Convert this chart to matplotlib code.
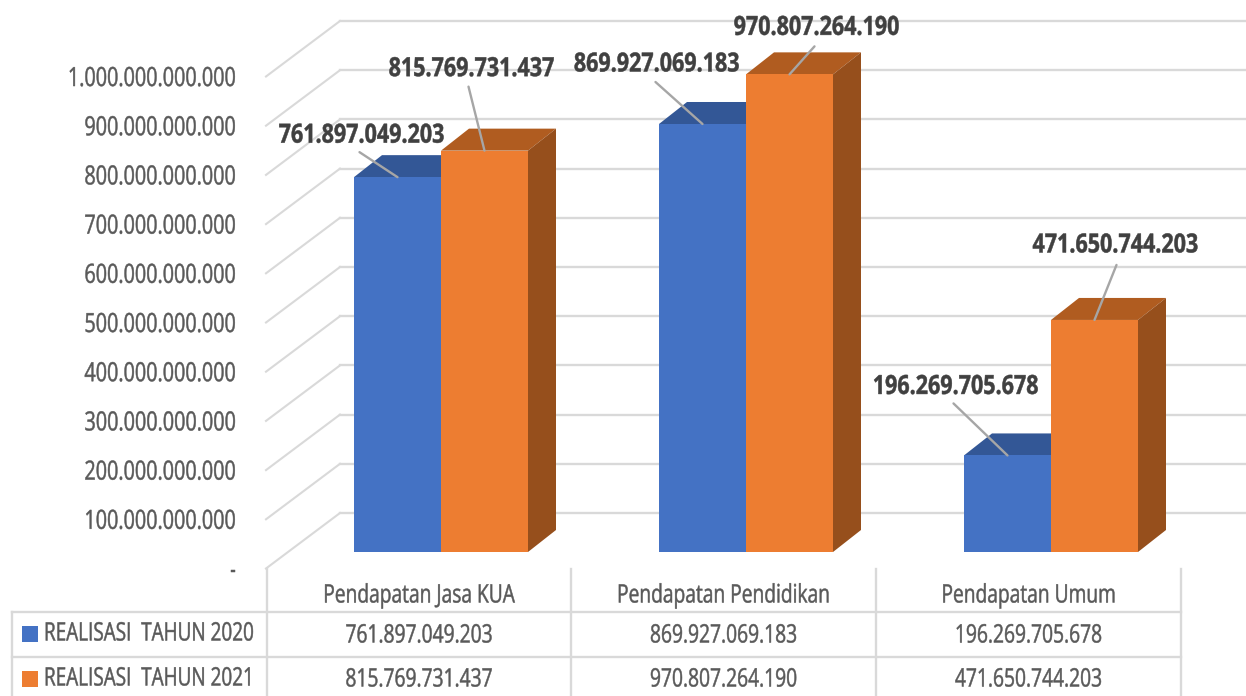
import matplotlib
matplotlib.use('Agg')
import matplotlib.pyplot as plt
import matplotlib.patheffects as pe
from matplotlib.transforms import Affine2D
import numpy as np

plt.rcParams['font.family'] = ['Open Sans', 'DejaVu Sans']

# ---- data ----
categories = ['Pendapatan Jasa KUA', 'Pendapatan Pendidikan', 'Pendapatan Umum']
series_names = ['REALISASI  TAHUN 2020', 'REALISASI  TAHUN 2021']
realisasi_2020 = [761897049203, 869927069183, 196269705678]
realisasi_2021 = [815769731437, 970807264190, 471650744203]
y_ticks = [0, 100e9, 200e9, 300e9, 400e9, 500e9, 600e9, 700e9, 800e9, 900e9, 1000e9]

# ---- colours ----
BLUE, BLUE_TOP = '#4472C4', '#335796'
ORANGE, ORANGE_TOP, ORANGE_SIDE = '#ED7D31', '#B05C20', '#964F1C'
GRID = '#D9D9D9'
TXT = '#595959'
LABEL = '#404040'
LEADER = '#A6A6A6'

# ---- layout, in pixels of the 1246x696 picture ----
W, H = 1246, 696
BASE_PX = 552
PX_PER_UNIT = 492 / 1e12
BAR_W = 87
GROUP_X = [354, 659, 964]
DEPTH_X, DEPTH_PX = 28, 22
WALL_L, WALL_R = 266, 340
FRONT_PX, BACK_PX = 16.5, 39

# leader start and label centre, relative to top middle of each bar
offsets_2020 = [((-38, 25), (-36, 42)), ((-47, 42), (-46, 60)), ((-54, 52), (-52, 69))]
offsets_2021 = [((-16, 64), (-13, 82)), ((25, 28), (27, 47)), ((22, 55), (21, 75))]


class Squeeze(pe.AbstractPathEffect):
    # the picture uses a condensed face, none is installed, so narrow the glyphs around x0
    def __init__(self, x0, sx, stroke=0.35):
        super().__init__()
        self.x0, self.sx, self.stroke = x0, sx, stroke

    def draw_path(self, renderer, gc, tpath, affine, rgbFace=None):
        squeeze = Affine2D().translate(-self.x0, 0).scale(self.sx, 1).translate(self.x0, 0)
        gc0 = renderer.new_gc()
        gc0.copy_properties(gc)
        gc0.set_foreground(rgbFace)
        gc0.set_linewidth(self.stroke)
        renderer.draw_path(gc0, tpath, affine + squeeze, rgbFace)
        gc0.restore()


def dy(px):
    # height in pixels to value units
    return px / PX_PER_UNIT


def ty(px):
    return dy(BASE_PX - px)


def fmt(v):
    if v == 0:
        return '-'
    return f'{int(v):,}'.replace(',', '.')


def put(x, y, s, sx, size=18.3, ha='center', color=TXT):
    t = ax.text(x, y, s, ha=ha, va='center', fontsize=size, color=color)
    t.set_path_effects([Squeeze(x, sx)])
    return t


fig = plt.figure(figsize=(W / 100, H / 100), dpi=100)
ax = fig.add_axes([0, 0, 1, 1])
ax.set_xlim(0, W)
ax.set_ylim(dy(BASE_PX - H), dy(BASE_PX))
ax.axis('off')

# back wall and side wall lines
for v in y_ticks:
    ax.plot([WALL_R, W], [v + dy(BACK_PX)] * 2, color=GRID, lw=1.7, zorder=1)
    ax.plot([WALL_L, WALL_R], [v - dy(FRONT_PX), v + dy(BACK_PX)], color=GRID, lw=1.5, zorder=1)
    put(236, v - dy(FRONT_PX) - dy(3), fmt(v), 0.75, size=19, ha='right')


def draw_bars(lefts, values, front, top, side, offsets, z):
    ax.bar(lefts, values, width=BAR_W, align='edge', color=front, zorder=z + 1)
    for x, v, (leader, label) in zip(lefts, values, offsets):
        ax.fill([x, x + BAR_W, x + BAR_W + DEPTH_X, x + DEPTH_X],
                [v, v, v + dy(DEPTH_PX), v + dy(DEPTH_PX)], color=top, lw=0, zorder=z)
        ax.fill([x + BAR_W, x + BAR_W + DEPTH_X, x + BAR_W + DEPTH_X, x + BAR_W],
                [0, dy(DEPTH_PX), v + dy(DEPTH_PX), v], color=side, lw=0, zorder=z)
        mid = x + BAR_W / 2
        ax.annotate('', xy=(mid, v), xytext=leader, textcoords='offset pixels',
                    arrowprops=dict(arrowstyle='-', color=LEADER, lw=1.7, shrinkA=0, shrinkB=0),
                    zorder=10)
        t = ax.annotate(fmt(v), xy=(mid, v), xytext=label, textcoords='offset pixels',
                        ha='center', va='center', fontsize=19, fontweight='bold',
                        color=LABEL, zorder=11)
        t.set_path_effects([Squeeze(mid + label[0], 0.815)])


draw_bars(GROUP_X, realisasi_2020, BLUE, BLUE_TOP, BLUE_TOP, offsets_2020, 3)
draw_bars([x + BAR_W for x in GROUP_X], realisasi_2021, ORANGE, ORANGE_TOP, ORANGE_SIDE, offsets_2021, 5)

# ---- data table under the chart ----
col_x = [267, 571, 876, 1181]
row_y = [569, 612, 657, 696]
LEFT = 12

for x in col_x:
    ax.plot([x, x], [ty(row_y[0]), ty(H)], color=GRID, lw=1.7, zorder=1)
ax.plot([LEFT, LEFT], [ty(row_y[1]), ty(H)], color=GRID, lw=1.7, zorder=1)
for y in row_y[1:3]:
    ax.plot([LEFT, col_x[-1]], [ty(y), ty(y)], color=GRID, lw=1.7, zorder=1)

for i, cat in enumerate(categories):
    cx = (col_x[i] + col_x[i + 1]) / 2
    put(cx, ty(596), cat, 0.755)
    put(cx, ty(636), fmt(realisasi_2020[i]), 0.757)
    put(cx, ty(680), fmt(realisasi_2021[i]), 0.757)

for name, color, y in zip(series_names, [BLUE, ORANGE], [634, 679]):
    ax.bar(22, dy(16), bottom=ty(y + 8), width=16, align='edge', color=color, zorder=3)
    put(44, ty(y), name, 0.745, size=18.3, ha='left')

plt.savefig('out.png', dpi=100)
